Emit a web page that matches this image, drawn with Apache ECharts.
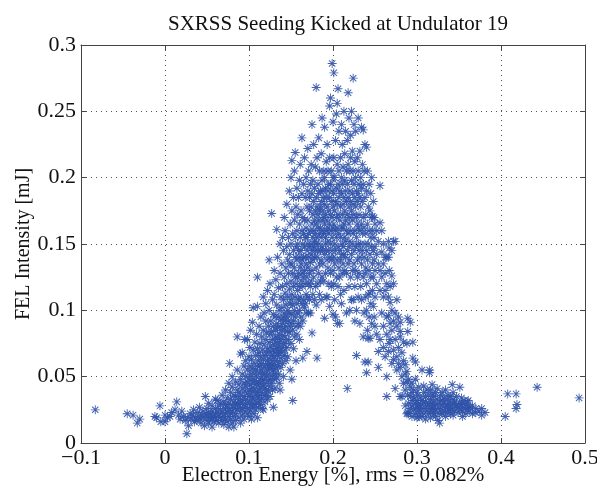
<!DOCTYPE html>
<html>
<head>
<meta charset="utf-8">
<script src="https://cdn.jsdelivr.net/npm/echarts@6/dist/echarts.min.js"></script>
<style>html,body{margin:0;padding:0;background:#fff}#c{width:597px;height:489px}</style>
</head>
<body>
<div id="c"></div>
<script>
// Each row: [electron energy (%), FEL intensity values (mJ) at that energy ...]
const leftTail = [
[-0.083,.025],[-0.045,.022],[-0.038,.021],[-0.033,.015],[-0.030,.018],[-0.012,.020],[-0.010,.019],
[-0.006,.028],[-0.005,.016],[0.000,.021,.016],[0.003,.019],[0.006,.020],[0.008,.023],[0.012,.025],
[0.014,.031],[0.016,.021],[0.018,.018],[0.020,.024],[0.022,.020],[0.024,.017],[0.026,.007],[0.027,.019],
[0.028,.013],[0.030,.022],[0.031,.018],[0.033,.021],[0.034,.025],[0.035,.016],[0.036,.019],[0.038,.017],
[0.039,.023],[0.040,.020],[0.041,.027],[0.042,.018],[0.043,.015],[0.044,.021],[0.045,.024],[0.046,.019],
[0.047,.013],[0.048,.035],[0.049,.022]
];
const riseLow = [
[0.050,.020,.017,.026],[0.052,.023,.015,.030],[0.054,.019,.021],[0.056,.024,.018,.028,.012],[0.058,.020,.016],
[0.060,.022,.026,.019,.033],[0.062,.032,.017,.024],[0.064,.021,.028,.015],[0.066,.019,.025,.030],
[0.068,.023,.017,.036],[0.070,.020,.026,.014,.031],[0.072,.022,.029,.018,.040],[0.074,.024,.016,.034,.027],
[0.076,.020,.030,.045,.012],[0.077,.060,.025],[0.078,.022,.033,.018,.038],[0.080,.028,.015,.042,.024,.050],
[0.082,.020,.031,.036,.026,.012],[0.084,.035,.022,.046,.029,.017],[0.086,.080,.030,.040,.025,.055],
[0.088,.033,.019,.044,.027,.038],[0.090,.067,.024,.036,.048,.030,.015],[0.092,.068,.032,.041,.026,.052,.021],
[0.094,.029,.045,.035,.058,.018],[0.095,.078,.039,.024],[0.096,.033,.050,.027,.043,.062],
[0.098,.078,.030,.046,.022,.037,.055],[0.100,.035,.049,.026,.065,.040,.020]
];
const riseMid = [
[0.101,.031,.044,.058,.072],[0.102,.024,.037,.052,.085],[0.103,.029,.041,.063,.018],[0.104,.091,.034,.048,.056],
[0.105,.102,.027,.039,.070,.045],[0.106,.033,.052,.060,.022],[0.107,.041,.076,.029,.047],[0.108,.036,.055,.066,.025],
[0.109,.044,.030,.082,.050],[0.110,.103,.019,.038,.058,.071,.125],[0.111,.034,.046,.062,.027],
[0.112,.040,.053,.088,.031,.068],[0.113,.045,.058,.036,.075],[0.114,.029,.049,.065,.095,.042],
[0.115,.038,.055,.080,.033,.060],[0.116,.047,.070,.026,.052],[0.117,.025,.043,.063,.085,.110],
[0.118,.036,.057,.048,.074,.098],[0.119,.041,.066,.031,.052],[0.120,.045,.059,.078,.092,.036,.105],
[0.121,.050,.068,.040,.083],[0.122,.033,.055,.071,.062,.115],[0.123,.047,.088,.058,.039],
[0.124,.138,.064,.052,.076,.100],[0.125,.043,.060,.069,.082,.035,.120],[0.126,.056,.073,.048,.092],
[0.127,.173,.066,.084,.045,.058],[0.128,.051,.078,.062,.108,.040],[0.129,.027,.070,.055,.088,.097],
[0.130,.059,.074,.048,.065,.112,.130],[0.131,.080,.052,.068,.041,.095],[0.132,.062,.085,.056,.076,.123],
[0.133,.161,.071,.090,.049,.104],[0.134,.066,.079,.058,.087,.140],[0.135,.073,.095,.052,.068,.117],
[0.136,.082,.061,.100,.076,.045],[0.137,.040,.070,.088,.128,.150],[0.138,.078,.064,.093,.110,.057],
[0.139,.085,.068,.102,.135],[0.140,.072,.090,.060,.081,.118,.155],[0.141,.095,.075,.108,.050,.145],
[0.142,.066,.086,.098,.125,.170],[0.143,.080,.070,.113,.092,.160],[0.144,.088,.104,.062,.132,.076],
[0.145,.095,.072,.120,.148,.180],[0.146,.084,.110,.065,.138,.100],[0.147,.092,.078,.128,.155],
[0.148,.098,.116,.083,.142,.190],[0.149,.055,.105,.088,.135,.165],[0.150,.090,.122,.075,.150,.108,.200]
];
const peakLeft = [
[0.151,.048,.097,.112,.175,.135,.213],[0.152,.032,.085,.128,.158,.104],[0.153,.092,.118,.145,.185,.071],
[0.154,.100,.132,.080,.168,.205],[0.155,.219,.110,.140,.095,.155,.125],[0.156,.088,.120,.178,.148,.062],
[0.157,.105,.138,.160,.192,.082],[0.158,.115,.098,.150,.125,.172],[0.159,.128,.090,.185,.108,.145],
[0.160,.118,.140,.100,.165,.198,.078],[0.161,.132,.110,.155,.088,.210],[0.162,.095,.145,.122,.175,.135],
[0.163,.230,.105,.160,.138,.188],[0.164,.064,.118,.150,.128,.170,.092],[0.165,.140,.108,.195,.158,.125],
[0.166,.102,.130,.168,.148,.215],[0.167,.105,.120,.185,.155,.140],[0.168,.098,.135,.162,.112,.200],
[0.169,.069,.145,.125,.178,.155],[0.170,.110,.150,.190,.132,.168,.222],[0.171,.098,.140,.158,.120,.205],
[0.172,.128,.175,.148,.108,.185],[0.173,.098,.136,.160,.195,.118],[0.174,.150,.122,.178,.142,.210],
[0.175,.083,.130,.165,.188,.145,.240],[0.176,.112,.155,.172,.138,.198],[0.177,.125,.148,.182,.160,.225],
[0.178,.140,.108,.168,.192,.152],[0.179,.118,.158,.145,.175,.208],[0.180,.268,.104,.132,.165,.185,.150],
[0.181,.064,.140,.178,.155,.215],[0.182,.120,.162,.195,.145,.172],[0.183,.150,.128,.188,.168,.230],
[0.184,.135,.175,.158,.205,.112],[0.185,.145,.190,.162,.178,.122],[0.186,.108,.155,.182,.138,.218],
[0.187,.148,.168,.198,.125,.245],[0.188,.135,.175,.160,.190,.145],[0.189,.158,.122,.185,.205,.170],
[0.190,.094,.142,.165,.180,.200,.238],[0.191,.150,.172,.128,.192,.155],[0.192,.110,.160,.185,.145,.212],
[0.193,.110,.168,.138,.178,.225],[0.194,.152,.190,.162,.132,.205],[0.195,.145,.175,.120,.195,.158],
[0.196,.103,.254,.165,.185,.140,.215],[0.197,.260,.150,.172,.128,.195],[0.198,.160,.138,.182,.205,.118],
[0.199,.286,.145,.170,.190,.155],[0.200,.097,.130,.162,.178,.200,.242]
];
const peakRight = [
[0.201,.279,.140,.165,.188,.120,.215],[0.202,.108,.150,.175,.200,.135],[0.203,.095,.160,.182,.145,.228],
[0.204,.125,.170,.155,.192,.248],[0.205,.256,.138,.180,.162,.210,.090],[0.206,.267,.148,.172,.195,.118],
[0.207,.132,.158,.185,.205,.235],[0.208,.090,.145,.168,.190,.125],[0.209,.155,.178,.138,.215,.112],
[0.210,.162,.142,.188,.200,.240,.105],[0.211,.128,.172,.150,.195,.225],[0.212,.148,.180,.135,.208,.162],
[0.213,.115,.165,.185,.142,.250],[0.214,.155,.175,.198,.130,.218],[0.215,.140,.168,.190,.152,.235],
[0.216,.098,.160,.182,.205,.128],[0.217,.041,.145,.172,.195,.228],[0.218,.264,.135,.158,.185,.210],
[0.219,.118,.165,.178,.148,.245],[0.220,.152,.190,.138,.205,.170,.100],[0.221,.125,.160,.215,.182,.232],
[0.222,.142,.175,.198,.108,.250],[0.223,.150,.168,.188,.220,.130],[0.224,.275,.108,.158,.205,.180],
[0.225,.135,.172,.195,.145,.240],[0.226,.118,.160,.185,.212,.092],[0.227,.148,.178,.200,.130,.235],
[0.228,.100,.066,.155,.190,.170],[0.229,.138,.165,.215,.182,.125],[0.230,.150,.188,.205,.162,.245,.110],
[0.231,.128,.172,.195,.145],[0.232,.140,.160,.220,.185,.090],[0.233,.118,.178,.150,.200],
[0.234,.135,.165,.192,.238,.108],[0.235,.145,.182,.158,.210],[0.236,.080,.236,.125,.170,.195],
[0.237,.140,.162,.205,.098],[0.238,.061,.150,.185,.128,.225],[0.239,.132,.172,.158,.110],
[0.240,.053,.223,.145,.190,.120,.100],[0.241,.138,.165,.085,.205],[0.242,.079,.061,.150,.178,.112],
[0.243,.130,.160,.195,.095],[0.244,.113,.079,.142,.175],[0.245,.125,.155,.188,.105],
[0.246,.148,.170,.090,.200],[0.247,.171,.135,.115,.160],[0.248,.182,.103,.145,.125],
[0.249,.095,.155,.138,.170],[0.250,.110,.148,.165,.130,.088]
];
const fallSide = [
[0.252,.120,.142,.160,.082],[0.254,.069,.057,.135,.152],[0.256,.194,.166,.130,.115,.078],
[0.258,.144,.125,.098,.160],[0.260,.110,.150,.135,.072,.088],[0.262,.115,.128,.140,.065],
[0.264,.050,.035,.140,.120,.095,.082],[0.266,.096,.152,.069,.110,.140],[0.267,.147,.130,.075],
[0.268,.106,.078,.118,.090],[0.270,.126,.060,.100,.085,.145],[0.272,.120,.152,.092,.070,.063],
[0.274,.041,.152,.078,.098],[0.276,.088,.065,.108,.055],[0.278,.072,.095,.060],
[0.280,.091,.084,.057,.080,.035],[0.282,.035,.068,.050],[0.284,.076,.062,.045],
[0.286,.059,.040,.052,.028],[0.288,.075,.054,.022,.046],[0.289,.094,.084,.023,.036],
[0.290,.022,.048,.030],[0.292,.091,.042,.026,.035],[0.294,.045,.028,.038,.020],
[0.295,.076,.064,.032],[0.296,.040,.025,.034],[0.298,.061,.048,.030,.022],[0.300,.019,.027,.038,.032]
];
const rightTail = [
[0.301,.027,.024,.036],[0.302,.030,.020,.042],[0.304,.034,.028,.024],[0.306,.055,.020,.032,.026],
[0.308,.038,.030,.022,.043],[0.310,.026,.035,.018,.031],[0.312,.040,.028,.024],[0.314,.030,.036,.022],
[0.315,.055,.053,.026],[0.316,.033,.040,.019],[0.318,.044,.026,.030],[0.319,.026,.037,.023],
[0.320,.031,.022,.035,.028],[0.322,.025,.038,.020],[0.324,.033,.029,.041],[0.325,.017,.026],
[0.327,.015,.031,.022],[0.328,.036,.025],[0.330,.038,.028,.022,.032],[0.332,.024,.034,.030],
[0.334,.040,.027,.020],[0.336,.029,.033,.023],[0.337,.025,.036],[0.338,.031,.026],
[0.340,.022,.035,.028],[0.342,.044,.030,.025],[0.343,.038,.021,.033],[0.345,.027,.024,.031],
[0.347,.035,.029],[0.349,.023,.027],[0.351,.042,.030,.025],[0.353,.028,.034],[0.354,.030,.020,.024],
[0.356,.026,.032],[0.358,.029,.022],[0.360,.025,.031],[0.361,.032,.027],[0.363,.027,.024],
[0.366,.028,.022],[0.370,.026,.023],[0.374,.024],[0.377,.026,.021],[0.381,.023]
];
const farRight = [
[0.405,.020],[0.408,.037],[0.418,.037,.026],[0.419,.029],[0.443,.042],[0.493,.034]
];
const xTicks = [-0.1, 0, 0.1, 0.2, 0.3, 0.4, 0.5];
const yTicks = [0, 0.05, 0.1, 0.15, 0.2, 0.25, 0.3];

function expand(rows) {
  const out = [];
  rows.forEach(r => { for (let i = 1; i < r.length; i++) out.push([r[0], r[i]]); });
  return out;
}
const points = [].concat(...[leftTail, riseLow, riseMid, peakLeft, peakRight, fallSide, rightTail, farRight].map(expand));

const star = 'path://M4.5,0H5.5V10H4.5Z M0,4.5H10V5.5H0Z M1.1,1.9L1.9,1.1L8.9,8.1L8.1,8.9Z M8.1,1.1L8.9,1.9L1.9,8.9L1.1,8.1Z';
const serif = '"Liberation Serif", "DejaVu Serif", serif';
const fmt = v => String(+(+v).toFixed(2)).replace('-', '\u2212');
const axisLine = { show: true, onZero: false, lineStyle: { color: '#444', width: 1 } };
const tick = { show: true, inside: true, length: 5, lineStyle: { color: '#444' } };
const grid = { show: true, lineStyle: { color: '#555', type: [1, 4], width: 1 } };

const chart = echarts.init(document.getElementById('c'), null, { renderer: 'canvas' });
chart.setOption({
  animation: false,
  backgroundColor: '#fff',
  title: {
    text: 'SXRSS Seeding Kicked at Undulator 19',
    left: 333, top: 9, textAlign: 'center',
    textStyle: { fontFamily: serif, fontSize: 21, fontWeight: 'normal', color: '#111' }
  },
  grid: { left: 81, right: 12, top: 45, bottom: 46, containLabel: false, outerBoundsMode: 'none' },
  xAxis: [{
    type: 'value', min: xTicks[0], max: xTicks[xTicks.length - 1], interval: 0.1,
    name: 'Electron Energy [%], rms = 0.082%', nameLocation: 'middle', nameGap: 22,
    nameMoveOverlap: false,
    nameTextStyle: { fontFamily: serif, fontSize: 21, color: '#111', verticalAlign: 'top' },
    axisLine, axisTick: tick, splitLine: grid,
    axisLabel: { formatter: fmt, fontFamily: serif, fontSize: 22, color: '#111', margin: 4 }
  }, {
    type: 'value', position: 'top', min: xTicks[0], max: xTicks[xTicks.length - 1], interval: 0.1,
    axisLine, axisTick: tick, splitLine: { show: false }, axisLabel: { show: false }
  }],
  yAxis: [{
    type: 'value', min: yTicks[0], max: yTicks[yTicks.length - 1], interval: 0.05,
    name: 'FEL Intensity [mJ]', nameLocation: 'middle', nameGap: 47, nameRotate: 90,
    nameMoveOverlap: false,
    nameTextStyle: { fontFamily: serif, fontSize: 20, color: '#111' },
    axisLine, axisTick: tick, splitLine: grid,
    axisLabel: { formatter: fmt, fontFamily: serif, fontSize: 22, color: '#111', margin: 5 }
  }, {
    type: 'value', position: 'right', min: yTicks[0], max: yTicks[yTicks.length - 1], interval: 0.05,
    axisLine, axisTick: tick, splitLine: { show: false }, axisLabel: { show: false }
  }],
  series: [{
    type: 'scatter', xAxisIndex: 0, yAxisIndex: 0,
    symbol: star, symbolSize: 9,
    itemStyle: { color: '#2f52a8', opacity: 0.9 },
    data: points
  }]
});
</script>
</body>
</html>
